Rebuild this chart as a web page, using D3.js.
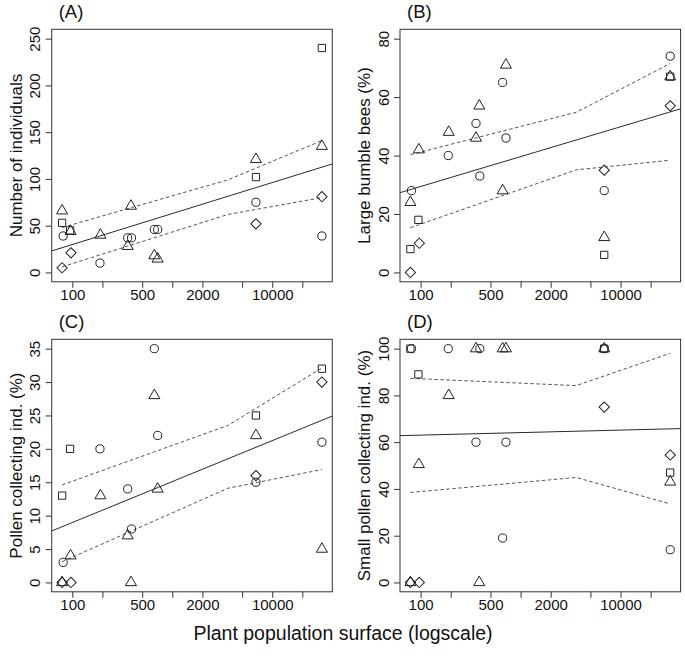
<!DOCTYPE html>
<html><head><meta charset="utf-8">
<script src="https://cdn.jsdelivr.net/npm/d3@7"></script>
<style>
body{margin:0;background:#fff}
svg{display:block}
text{font-family:"Liberation Sans",Arial,Helvetica,sans-serif;fill:#111}
</style>
</head><body>
<svg id="chart" width="685" height="656"></svg>
<script>
// ---------- data ----------
// plant population surface for each point group (shared by all panels)
const circleX   = [81, 189, 358, 391, 661, 714, 6870, 31400];
const triangleX = [79, 96, 191, 358, 386, 661, 714, 6870, 31400];
const squareX   = [79, 95, 6870, 31400];
const diamondX  = [79, 97, 6870, 31400];

// (A) Number of individuals
const circleA   = [39, 10, 37, 37, 46, 46, 75, 39];
const triangleA = [66, 44, 40, 28, 71, 18, 14.5, 121, 135];
const squareA   = [53, 45, 102, 240];
const diamondA  = [5, 21, 52, 81];
// (B) Large bumble bees (%)
const circleB   = [28, 40, 51, 33, 65, 46, 28, 74];
const triangleB = [24, 42, 48, 46, 57, 28, 71, 12, 67];
const squareB   = [8, 18, 6, 67];
const diamondB  = [0, 10, 35, 57];
// (C) Pollen collecting ind. (%)
const circleC   = [3, 20, 14, 8, 35, 22, 15, 21];
const triangleC = [0, 4, 13, 7, 0, 28, 14, 22, 5];
const squareC   = [13, 20, 25, 32];
const diamondC  = [0, 0, 16, 30];
// (D) Small pollen collecting ind. (%)
const circleD   = [100, 100, 60, 100, 19, 60, 100, 14];
const triangleD = [0, 50.5, 80, 100, 0, 100, 100, 100, 43];
const squareD   = [100, 89, 100, 47];
const diamondD  = [0, 0, 75, 54.5];

// fitted lines: value = intercept + slope * log10(surface)
const fitIntercept = [-36.4, 8.97, -3.29, 60.88];
const fitSlope     = [33.13, 10.22, 6.13, 1.07];
// confidence band (dashed)
const ciX      = [79, 3600, 31400];
const ciUpperA = [48, 99, 141],   ciLowerA = [6, 62, 80];
const ciUpperB = [40.3, 54.8, 71.5], ciLowerB = [15.3, 35.1, 38.4];
const ciUpperC = [14.6, 23.5, 32.1], ciLowerC = [3.1, 14.1, 16.9];
const ciUpperD = [87.3, 84.2, 98],   ciLowerD = [38.5, 44.9, 33.6];

const panelLabels = ["(A)", "(B)", "(C)", "(D)"];
const yTitles = ["Number of individuals", "Large bumble bees (%)", "Pollen collecting ind. (%)", "Small pollen collecting ind. (%)"];
const yTicksA = [0, 50, 100, 150, 200, 250];
const yTicksB = [0, 20, 40, 60, 80];
const yTicksC = [0, 5, 10, 15, 20, 25, 30, 35];
const yTicksD = [0, 20, 40, 60, 80, 100];
const xTicks = [100, 200, 500, 1000, 2000, 5000, 10000, 20000];
const xTickLabels = [100, 500, 2000, 10000];
const xTitle = "Plant population surface (logscale)";

// ---------- build ----------
const panels = [
  {c: circleA, t: triangleA, s: squareA, d: diamondA, up: ciUpperA, lo: ciLowerA, yt: yTicksA},
  {c: circleB, t: triangleB, s: squareB, d: diamondB, up: ciUpperB, lo: ciLowerB, yt: yTicksB},
  {c: circleC, t: triangleC, s: squareC, d: diamondC, up: ciUpperC, lo: ciLowerC, yt: yTicksC},
  {c: circleD, t: triangleD, s: squareD, d: diamondD, up: ciUpperD, lo: ciLowerD, yt: yTicksD}
];

const svg = d3.select("#chart");
const colsLeft = [51.7, 400], rowsTop = [29.3, 339.3];
const pw = 280.6, ph = 252.5;
const allX = circleX.concat(triangleX, squareX, diamondX);
const lx0 = Math.log10(d3.min(allX)), lx1 = Math.log10(d3.max(allX));
const padX = 0.04 * (lx1 - lx0);
const symSize = Math.PI * 4.1 * 4.1;
const ink = "#222";

panels.forEach((p, i) => {
  const left = colsLeft[i % 2], top = rowsTop[Math.floor(i / 2)];
  const ymax = d3.max(p.yt);
  const x = d3.scaleLog().domain([10 ** (lx0 - padX), 10 ** (lx1 + padX)]).range([left, left + pw]);
  const y = d3.scaleLinear().domain([-0.04 * ymax, 1.04 * ymax]).range([top + ph, top]);
  const g = svg.append("g");

  // x axis
  const xa = g.append("g").attr("transform", `translate(0,${top + ph})`)
    .call(d3.axisBottom(x).tickValues(xTicks).tickSize(6).tickSizeOuter(0)
      .tickFormat(d => xTickLabels.includes(d) ? String(d) : ""));
  xa.select(".domain").remove();
  xa.selectAll("line").attr("stroke", "#333");
  xa.selectAll("text").attr("y", 18.5).attr("dy", 0).style("font-size", "15px").style("fill", "#111");

  // y axis
  const ya = g.append("g").attr("transform", `translate(${left},0)`)
    .call(d3.axisLeft(y).tickValues(p.yt).tickSize(6).tickSizeOuter(0));
  ya.select(".domain").remove();
  ya.selectAll("line").attr("stroke", "#333");
  ya.selectAll("text").attr("x", null).attr("dy", 0).attr("text-anchor", "middle")
    .attr("transform", "translate(-11.5,0) rotate(-90)")
    .style("font-size", "15px").style("fill", "#111");

  // box
  g.append("rect").attr("x", left).attr("y", top).attr("width", pw).attr("height", ph)
    .attr("fill", "none").attr("stroke", "#333").attr("stroke-width", 1);

  // clip
  const cid = "clip" + i;
  svg.append("clipPath").attr("id", cid).append("rect")
    .attr("x", left).attr("y", top).attr("width", pw).attr("height", ph);

  // regression line
  const dom = x.domain();
  const fit = v => fitIntercept[i] + fitSlope[i] * Math.log10(v);
  g.append("path").attr("clip-path", `url(#${cid})`)
    .attr("d", d3.line().x(d => x(d)).y(d => y(fit(d)))(dom))
    .attr("fill", "none").attr("stroke", "#2a2a2a").attr("stroke-width", 1);

  // confidence band
  [p.up, p.lo].forEach(arr => {
    g.append("path")
      .attr("d", d3.line().x((d, k) => x(ciX[k])).y(d => y(d))(arr))
      .attr("fill", "none").attr("stroke", "#555").attr("stroke-width", 1)
      .attr("stroke-dasharray", "3.5,2.5");
  });

  // points
  const groups = [
    {xs: circleX, ys: p.c, type: d3.symbolCircle, rot: 0},
    {xs: squareX, ys: p.s, type: d3.symbolSquare, rot: 0},
    {xs: diamondX, ys: p.d, type: d3.symbolSquare, rot: 45},
    {xs: triangleX, ys: p.t, type: d3.symbolTriangle, rot: 0}
  ];
  groups.forEach(gr => {
    const sym = d3.symbol().type(gr.type).size(symSize);
    g.append("g").selectAll("path").data(gr.ys).join("path")
      .attr("transform", (d, k) => `translate(${x(gr.xs[k])},${y(d)}) rotate(${gr.rot})`)
      .attr("d", sym)
      .attr("fill", "none").attr("stroke", ink).attr("stroke-width", 1);
  });

  // panel label
  g.append("text").attr("x", left + 7).attr("y", top - 11.3)
    .style("font-size", "18.5px").text(panelLabels[i]);

  // y title
  g.append("text").attr("text-anchor", "middle")
    .attr("transform", `translate(${left - 30},${top + ph / 2}) rotate(-90)`)
    .style("font-size", "17px").text(yTitles[i]);
});

svg.append("text").attr("x", 343).attr("y", 640).attr("text-anchor", "middle")
  .style("font-size", "19.5px").text(xTitle);
</script>
</body></html>
